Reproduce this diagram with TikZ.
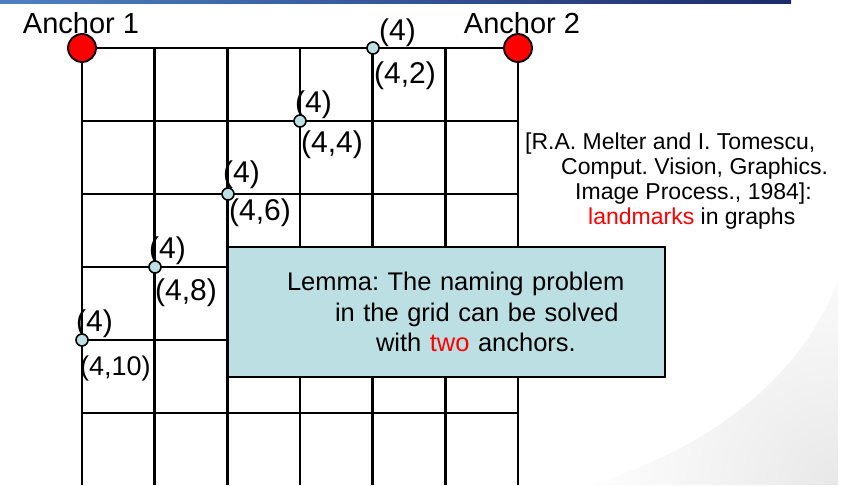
\documentclass[tikz,border=0pt]{standalone}
\usepackage{fontspec}
\setmainfont{Liberation Sans}
\usepackage{xcolor}
\usetikzlibrary{positioning,calc}
\definecolor{dotblue}{HTML}{BCE0E4}
\definecolor{boxblue}{HTML}{BBDFE3}
\definecolor{barleft}{HTML}{4F80C2}
\definecolor{barright}{HTML}{1B2B6B}
\frenchspacing
\tikzset{
  gridline/.style={line width=2.4pt, draw=black},
  anchorpt/.style={circle, draw=black, line width=1.8pt, fill=red,
    minimum size=28pt, inner sep=0pt},
  dotpt/.style={circle, draw=black, line width=1.6pt, fill=dotblue,
    minimum size=12pt, inner sep=0pt},
  anchortext/.style={font=\fontsize{29}{32}\selectfont, inner sep=0pt},
  distlbl/.style={font=\fontsize{30}{32}\selectfont, inner sep=0pt, anchor=base west},
  coordlbl/.style={font=\fontsize{30}{32}\selectfont, inner sep=0pt, anchor=base west},
  lemmabox/.style={rectangle, draw=black, line width=2.4pt, fill=boxblue,
    minimum width=437pt, minimum height=130pt, text width=437pt,
    inner xsep=0pt, align=left, font=\fontsize{25.5}{30.5}\selectfont},
  citetext/.style={align=left, inner sep=0pt, font=\fontsize{23}{25}\selectfont},
}

\begin{document}
\begin{tikzpicture}[x=1pt, y=-1pt]
  \useasboundingbox (0,0) rectangle (850,485);
  % slide background
  \begin{scope}
    \clip (590,485) .. controls (720,445) and (805,370) .. (838,280) -- (838,485) -- cycle;
    \shade[inner color=black!9, outer color=white] (838,485) circle (260);
  \end{scope}
  \shade[left color=barleft, right color=barright] (0,0) rectangle (791,3);

  % grid
  \foreach \i in {0,...,6}
    \draw[gridline] ({82+436*\i/6},48) -- ({82+436*\i/6},485);
  \foreach \j in {0,...,5}
    \draw[gridline] (82,{48+73*\j}) -- (518,{48+73*\j});

  \node[lemmabox] (lemma) at (446.5,312)
    {\hspace*{59pt}Lemma: The naming problem\\
     \hspace*{107pt}in the grid can be solved\\
     \hspace*{148pt}with \textcolor{red}{two} anchors.};

  \node[anchorpt] (a1) at (82,48) {};
  \node[anchorpt] (a2) at (518,48) {};
  \node[anchortext, anchor=base] (a1lbl) at ($(a1)+(-1,-15)$) {Anchor 1};
  \node[anchortext, anchor=base] (a2lbl) at ($(a2)+(4,-15)$) {Anchor 2};

  \coordinate (p1) at (373,48);
  \coordinate (p2) at (300,121);
  \coordinate (p3) at (228,194);
  \coordinate (p4) at (155,267);
  \coordinate (p5) at (82,340);

  \foreach \d/\ux/\uy/\lx/\ly/\lab in {p1/6/-8/1/35/{(4,2)}, p2/-5/-9/1/31/{(4,4)},
      p3/-5/-12/1/26/{(4,6)}, p4/-6/-9/0/33/{(4,8)}}{
    \node[distlbl] (\d u) at ($(\d)+(\ux,\uy)$) {(4)};
    \node[coordlbl] (\d l) at ($(\d)+(\lx,\ly)$) {\lab};
  }
  \node[distlbl] (p5u) at ($(p5)+(-6,-9)$) {(4)};
  \node[coordlbl, font=\fontsize{27}{29}\selectfont] (p5l) at ($(p5)+(-2,35)$) {(4,10)};

  % named points on top of their labels
  \foreach \d in {1,...,5}
    \node[dotpt] (d\d) at (p\d) {};

  \node[citetext, anchor=north west] (cite) at (525,133)
    {[R.A. Melter and I. Tomescu,\\
     \hspace*{36pt}Comput. Vision, Graphics.\\
     \hspace*{50pt}Image Process., 1984]:\\
     \hspace*{63pt}\textcolor{red}{landmarks} in graphs};
\end{tikzpicture}
\end{document}
